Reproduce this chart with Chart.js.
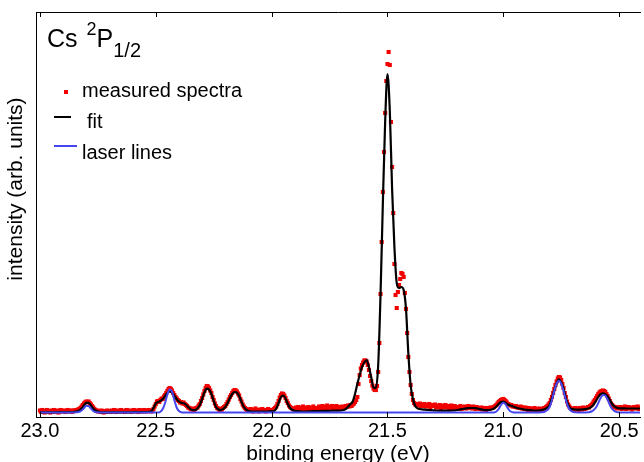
<!DOCTYPE html>
<html>
<head>
<meta charset="utf-8">
<script src="https://cdn.jsdelivr.net/npm/chart.js@4.4.1/dist/chart.umd.min.js"></script>
<style>
  html, body { margin: 0; padding: 0; background: #fff; }
  #wrap { position: relative; width: 644px; height: 462px; overflow: hidden;
          font-family: 'Liberation Sans', Arial, sans-serif; color: #000; }
  #wrap canvas { position: absolute; left: 0; top: 0; }
  .lbl { position: absolute; white-space: nowrap; }
  #plotTitle { left: 47px; top: 25.5px; font-size: 25px; line-height: 25px; }
  #plotTitle .sup { position: relative; top: -11.5px; font-size: 18px; margin-left: 2px; }
  #plotTitle .sub { position: relative; top: 10.5px; font-size: 20px; }
  #yTitle { left: 13.7px; top: 188.5px; font-size: 21px; line-height: 21px;
            transform: translate(-50%, -50%) rotate(-90deg); }
  .legend-text { font-size: 20px; line-height: 20px; }
  .mark { position: absolute; }
</style>
</head>
<body>
<div id="wrap">
  <canvas id="spectrum" width="644" height="462"></canvas>
  <div id="plotTitle" class="lbl">Cs <span class="sup">2</span>P<span class="sub">1/2</span></div>
  <div id="yTitle" class="lbl">intensity (arb. units)</div>
  <div id="legend"></div>
</div>
<script>
// measured spectrum, one value every 5 meV from 23.000 eV down to 20.410 eV
const measuredStart = 23.0;
const measuredStep = 0.005;
const measured = [
  6.5, 5, 7, 5.5, 4.5, 6, 7, 5, 6, 4.5, 6.5, 5.5, 7, 5, 6, 6.5, 4.5, 5.5, 7, 6,               // 23.000
  5.5, 6.5, 5, 6, 7, 5.5, 6, 6.5, 5, 6.5, 6, 7, 6.5, 7.5, 8, 9, 10.5, 12, 13.5, 14.5,          // 22.900
  15.5, 15, 15.5, 14, 12.5, 11, 9.5, 8, 7, 6.5, 5.5, 6, 5, 6.5, 5.5, 4.5, 6, 5, 6.5, 5.5,      // 22.800
  6, 5, 6.5, 5.5, 7, 6, 5, 6.5, 5.5, 6, 7, 5.5, 6, 5, 6.5, 7, 5.5, 6, 6.5, 5,                  // 22.700
  6, 7, 5.5, 6.5, 6, 5, 7, 6.5, 5.5, 6, 7, 6, 5.5, 6.5, 7, 6, 5.5, 6.5, 8, 10.5,               // 22.600
  13, 15.5, 16, 15, 17, 18.5, 18, 20.5, 22, 24, 26, 28, 29, 28, 26.5, 24, 22, 20, 18.5, 17,    // 22.500
  16, 14.5, 15, 13.5, 14.5, 13, 12, 11, 9.5, 9, 8, 7.5, 8.5, 7, 8, 9, 9.5, 11.5, 13, 16,       // 22.400
  19, 22.5, 26, 29, 31, 30.5, 29, 26.5, 24, 20, 17, 13.5, 11, 9, 8.5, 7, 8, 7.5, 9, 10,        // 22.300
  11, 13, 15, 17.5, 20, 22, 24, 26, 27, 26.5, 25.5, 23.5, 21.5, 18, 15.5, 12.5, 10.5, 9, 8, 7, // 22.200
  7.5, 6, 8, 6.5, 5.5, 7, 8.5, 6, 7, 5.5, 7.5, 6.5, 8, 6, 7, 5.5, 6.5, 8, 7, 6,                // 22.100
  7, 6.5, 8, 9, 10.5, 13, 16, 19.5, 22, 23.5, 23, 21.5, 19, 16, 14, 11.5, 10, 9, 8.5, 7.5,     // 22.000
  8, 9.5, 7, 10, 8.5, 7.5, 9, 10.5, 8, 7, 9.5, 8.5, 10, 7.5, 9, 8, 10.5, 9, 7.5, 8.5,          // 21.900
  9, 10.5, 8, 9.5, 11, 8.5, 10, 9, 11.5, 8.5, 10, 9.5, 11, 8, 10.5, 9, 11, 10, 8.5, 10,        // 21.800
  9, 10.5, 9, 10, 11, 10, 11.5, 10.5, 12, 11, 12.5, 13.5, 15, 17, 20, 33, 42, 48.5, 52, 54.5,  // 21.700
  56.5, 56.5, 55.5, 52, 47, 41, 36, 31.5, 28.5, 27, 27, 31, 45, 74, 123, 175, 225, 265, 304, 336, // 21.600
  353, 365, 352, 295, 250, 204, 153, 122, 109, 125, 132, 138, 144, 143, 140, 124, 108, 84, 60, 45, // 21.500
  32, 23, 17, 14, 12.5, 13, 11.5, 12, 13.5, 11, 12.5, 11, 13, 10.5, 12, 11, 13, 10, 11.5, 12,  // 21.400
  11, 12.5, 9.5, 11, 10, 12, 9, 11.5, 10.5, 9.5, 12, 10, 11, 9, 10.5, 11.5, 9, 10, 11, 9.5,    // 21.300
  10, 8.5, 9.5, 11, 8, 10, 9, 10.5, 8.5, 9.5, 11, 9, 10, 8.5, 10.5, 9.5, 8, 10, 9, 8.5,        // 21.200
  8, 9.5, 7.5, 9, 8.5, 7, 9, 8, 8.5, 9.5, 9, 9.5, 10, 11, 12, 13.5, 15, 16, 17, 17.5,          // 21.100
  18, 17, 16, 14.5, 13, 12.5, 11.5, 12, 10.5, 11, 10, 11, 9.5, 10, 9, 10.5, 8.5, 9.5, 8, 9.5,  // 21.000
  8.5, 7, 9, 8, 6.5, 8.5, 7.5, 9, 6.5, 8, 7, 8.5, 7.5, 6.5, 8, 9, 8.5, 10, 11, 12.5,           // 20.900
  14, 17, 20, 24, 28, 32, 35.5, 38.5, 40, 39.5, 37, 33, 29, 24, 20, 15.5, 12.5, 10.5, 9, 8.5,  // 20.800
  8, 7, 9, 7.5, 8.5, 7, 9, 8, 7.5, 9.5, 8, 8.5, 9, 10, 9.5, 11, 12, 13.5, 15.5, 17,            // 20.700
  19, 21, 23, 24.5, 25.5, 26, 26.5, 26, 25, 23, 21, 18.5, 16, 13.5, 12, 10.5, 9.5, 10, 8.5, 9.5, // 20.600
  9, 10, 8, 9.5, 8.5, 10.5, 8, 9, 10, 8.5, 9.5, 7.5, 9, 10, 8.5, 9, 10.5, 8, 9                 // 20.500
];

// fit and laser lines, one value every 10 meV from 23.00 eV down to 20.40 eV
const curveStart = 23.0;
const curveStep = 0.01;
const fit = [
  4.6, 4.6, 4.6, 4.7, 4.7, 4.7, 4.7, 4.8, 4.8, 4.8,   // 23.00
  4.8, 4.8, 4.9, 4.9, 5, 5.2, 5.6, 6.6, 8.6, 11.5,    // 22.90
  14.2, 14.2, 11.5, 8.5, 6.5, 5.4, 4.9, 4.7, 4.7, 4.7, // 22.80
  4.7, 4.7, 4.7, 4.7, 4.7, 4.7, 4.7, 4.7, 4.7, 4.7,   // 22.70
  4.8, 4.8, 4.8, 4.8, 4.9, 4.9, 5, 5.1, 5.6, 9,       // 22.60
  13.5, 15, 16, 18, 21, 24, 25.5, 24.5, 21.5, 18,     // 22.50
  15.5, 14.3, 13.7, 12.5, 10, 7.8, 7, 7, 8.5, 12,     // 22.40
  18, 24.5, 28.3, 27.5, 23, 16, 10, 7.5, 7, 7.8,      // 22.30
  10, 14, 19, 23, 25, 24.3, 21, 15, 10, 7.3,          // 22.20
  6, 5.5, 5.3, 5.3, 5.3, 5.3, 5.3, 5.3, 5.4, 5.6,     // 22.10
  5.8, 6, 8.5, 14, 20, 21.5, 18.5, 13, 9, 7,          // 22.00
  6.2, 5.8, 5.6, 5.5, 5.5, 5.5, 5.6, 5.7, 5.8, 5.9,   // 21.90
  6, 6, 6.1, 6.1, 6.2, 6.2, 6.3, 6.3, 6.4, 6.4,       // 21.80
  6.5, 7, 8, 10.3, 13, 15.5, 23, 33, 42, 50,          // 21.70
  54.5, 57, 50, 39.5, 29.5, 29, 52, 122, 213, 295,    // 21.60
  343, 307, 228, 170, 134, 129, 130, 127, 108, 64,    // 21.50
  32, 18, 11, 8.7, 8, 7.6, 7.4, 7.2, 7, 6.8,          // 21.40
  6.6, 6.5, 6.4, 6.3, 6.3, 6.3, 6.3, 6.4, 6.5, 6.7,   // 21.30
  7, 7.4, 7.8, 8.2, 8.6, 8.9, 9, 9, 8.8, 8.3,         // 21.20
  7.8, 7.3, 7, 6.9, 7, 7.5, 8.5, 10.5, 13, 15,        // 21.10
  15.3, 14, 12.5, 11.5, 10.8, 10, 9, 8.5, 8, 7.5,     // 21.00
  7.2, 7, 6.8, 6.5, 6.4, 6.5, 6.7, 7.2, 8, 9.5,       // 20.90
  12, 19, 26.5, 33.5, 37.7, 34.5, 28.5, 19, 12, 8.5,  // 20.80
  7.8, 7.5, 7.4, 7.4, 7.5, 7.8, 8.2, 8.8, 10, 12.5,   // 20.70
  16, 20, 22.8, 23.7, 22.8, 20.5, 17, 13, 10.5, 9.2,  // 20.60
  8.7, 8.6, 8.6, 8.5, 8.5, 8.5, 8.5, 8.5, 8.5, 8.5,   // 20.50
  8.5                                                 // 20.40
];
const laserLines = [
  4.5, 4.5, 4.5, 4.5, 4.5, 4.5, 4.5, 4.5, 4.5, 4.5,   // 23.00
  4.5, 4.5, 4.5, 4.5, 4.5, 4.6, 4.8, 5.3, 6.5, 8.8,   // 22.90
  11.3, 11, 8.5, 6, 4.9, 4.6, 4.5, 4.5, 4.5, 4.5,     // 22.80
  4.5, 4.5, 4.5, 4.5, 4.5, 4.5, 4.5, 4.5, 4.5, 4.5,   // 22.70
  4.5, 4.5, 4.5, 4.5, 4.5, 4.5, 4.5, 4.5, 4.5, 4.5,   // 22.60
  4.5, 4.5, 5.3, 8, 14, 22.5, 27.5, 25.5, 17, 9.5,    // 22.50
  6, 4.8, 4.5, 4.5, 4.5, 4.5, 4.5, 4.5, 4.5, 4.5,     // 22.40
  4.5, 4.5, 4.5, 4.5, 4.5, 4.5, 4.5, 4.5, 4.5, 4.5,   // 22.30
  4.5, 4.5, 4.5, 4.5, 4.5, 4.5, 4.5, 4.5, 4.5, 4.5,   // 22.20
  4.5, 4.5, 4.5, 4.5, 4.5, 4.5, 4.5, 4.5, 4.5, 4.5,   // 22.10
  4.5, 4.5, 4.5, 4.5, 4.5, 4.5, 4.5, 4.5, 4.5, 4.5,   // 22.00
  4.5, 4.5, 4.5, 4.5, 4.5, 4.5, 4.5, 4.5, 4.5, 4.5,   // 21.90
  4.5, 4.5, 4.5, 4.5, 4.5, 4.5, 4.5, 4.5, 4.5, 4.5,   // 21.80
  4.5, 4.5, 4.5, 4.5, 4.5, 4.5, 4.5, 4.5, 4.5, 4.5,   // 21.70
  4.5, 4.5, 4.5, 4.5, 4.5, 4.5, 4.5, 4.5, 4.5, 4.5,   // 21.60
  4.5, 4.5, 4.5, 4.5, 4.5, 4.5, 4.5, 4.5, 4.5, 4.5,   // 21.50
  4.5, 4.5, 4.5, 4.5, 4.5, 4.5, 4.5, 4.5, 4.5, 4.5,   // 21.40
  4.5, 4.5, 4.5, 4.5, 4.5, 4.5, 4.5, 4.5, 4.5, 4.5,   // 21.30
  4.5, 4.5, 4.5, 4.5, 4.5, 4.5, 4.5, 4.5, 4.5, 4.5,   // 21.20
  4.5, 4.5, 4.5, 4.5, 4.5, 4.5, 4.6, 5.5, 8, 12,      // 21.10
  14.3, 12.5, 8.5, 5.8, 4.8, 4.5, 4.5, 4.5, 4.5, 4.5, // 21.00
  4.5, 4.5, 4.5, 4.5, 4.5, 4.5, 4.6, 4.8, 5.5, 7,     // 20.90
  10, 17, 26, 33.5, 36.3, 33.5, 26, 17, 10, 6.5,      // 20.80
  5.2, 4.8, 4.6, 4.5, 4.5, 4.5, 4.6, 4.8, 5.5, 7,     // 20.70
  9.5, 14, 19, 22, 21.5, 17.5, 12, 8, 5.8, 4.9,       // 20.60
  4.6, 4.5, 4.5, 4.5, 4.5, 4.5, 4.5, 4.5, 4.5, 4.5,   // 20.50
  4.5                                                 // 20.40
];

const tickValues = [23.0, 22.5, 22.0, 21.5, 21.0, 20.5];
const seriesLabels = ['measured spectra', 'fit', 'laser lines'];

const toPoints = (start, step, values) =>
  values.map((y, i) => ({ x: +(start - i * step).toFixed(3), y: y }));

Chart.defaults.font.family = "'Liberation Sans', Arial, sans-serif";
Chart.defaults.color = '#000';

const frame = { display: true, color: '#000', width: 1 };
const noGrid = { display: false, drawTicks: false };

// small inward ticks on the bottom and top edges of the frame
const innerTicks = {
  id: 'innerTicks',
  afterDraw(chart) {
    const ctx = chart.ctx;
    const xs = chart.scales.x;
    const area = chart.chartArea;
    ctx.save();
    ctx.strokeStyle = '#000';
    ctx.lineWidth = 1;
    xs.ticks.forEach(t => {
      const px = Math.round(xs.getPixelForValue(t.value)) + 0.5;
      ctx.beginPath();
      ctx.moveTo(px, area.bottom);
      ctx.lineTo(px, area.bottom - 5);
      ctx.moveTo(px, area.top);
      ctx.lineTo(px, area.top + 5);
      ctx.stroke();
    });
    ctx.restore();
  }
};

const chart = new Chart(document.getElementById('spectrum'), {
  type: 'line',
  data: {
    datasets: [
      {
        label: seriesLabels[0],
        data: toPoints(measuredStart, measuredStep, measured),
        showLine: false,
        pointStyle: 'rect',
        pointRadius: 2.9,
        pointBackgroundColor: '#f20000',
        pointBorderWidth: 0,
        order: 2
      },
      {
        label: seriesLabels[1],
        data: toPoints(curveStart, curveStep, fit),
        borderColor: '#000',
        borderWidth: 2.2,
        pointRadius: 0,
        cubicInterpolationMode: 'monotone',
        order: 1
      },
      {
        label: seriesLabels[2],
        data: toPoints(curveStart, curveStep, laserLines),
        borderColor: '#4646ee',
        borderWidth: 2,
        pointRadius: 0,
        cubicInterpolationMode: 'monotone',
        order: 0
      }
    ]
  },
  options: {
    responsive: false,
    animation: false,
    devicePixelRatio: 1,
    events: [],
    layout: { padding: 0 },
    scales: {
      x: {
        type: 'linear',
        position: 'bottom',
        reverse: true,
        min: 20.41,
        max: 23.017,
        afterBuildTicks: s => { s.ticks = tickValues.map(v => ({ value: v })); },
        afterFit: s => { s.height = 45; },
        grid: noGrid,
        border: frame,
        ticks: {
          font: { size: 20 },
          padding: 2.5,
          maxRotation: 0,
          autoSkip: false,
          callback: v => v.toFixed(1)
        },
        title: {
          display: true,
          text: 'binding energy (eV)',
          font: { size: 21 },
          padding: { top: 0, bottom: -5 }
        }
      },
      x2: {
        type: 'linear',
        position: 'top',
        reverse: true,
        min: 20.41,
        max: 23.017,
        afterFit: s => { s.height = 12; },
        grid: noGrid,
        border: frame,
        ticks: { display: false }
      },
      y: {
        type: 'linear',
        position: 'left',
        min: 0,
        max: 405,
        afterFit: s => { s.width = 36; },
        grid: noGrid,
        border: frame,
        ticks: { display: false }
      }
    },
    plugins: {
      legend: { display: false },
      tooltip: { enabled: false }
    }
  },
  plugins: [innerTicks]
});

// legend drawn as html text next to the markers, built from the datasets
const legendRows = [
  { top: 80, markX: 64.3, markY: 90, markW: 4, textX: 82 },
  { top: 111, markX: 54.3, markY: 117.3, markW: 16.5, textX: 87 },
  { top: 141.5, markX: 54.3, markY: 146, markW: 22.5, textX: 82 }
];
const legendBox = document.getElementById('legend');
chart.data.datasets.forEach((ds, i) => {
  const row = legendRows[i];
  const mark = document.createElement('div');
  mark.className = 'mark';
  mark.style.left = row.markX + 'px';
  mark.style.width = row.markW + 'px';
  if (ds.showLine === false) {
    mark.style.top = row.markY + 'px';
    mark.style.height = row.markW + 'px';
    mark.style.background = ds.pointBackgroundColor;
  } else {
    const h = ds.borderWidth > 2 ? 2 : 1.6;
    mark.style.top = (row.markY - h / 2) + 'px';
    mark.style.height = h + 'px';
    mark.style.background = ds.borderColor;
  }
  legendBox.appendChild(mark);

  const text = document.createElement('div');
  text.className = 'lbl legend-text';
  text.style.left = row.textX + 'px';
  text.style.top = row.top + 'px';
  text.textContent = ds.label;
  legendBox.appendChild(text);
});
</script>
</body>
</html>
